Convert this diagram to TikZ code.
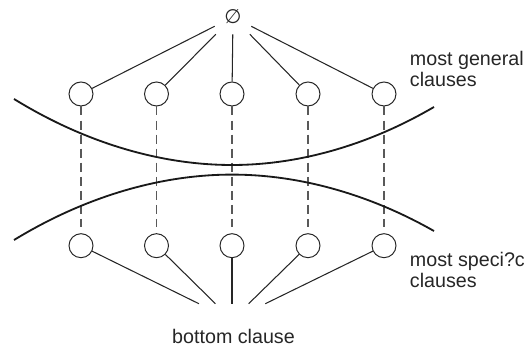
\documentclass[tikz,border=0pt]{standalone}
\usepackage{fontspec}
\setmainfont{Liberation Sans}
\newfontfamily\symbolfont{DejaVu Sans}
\usepackage{tikz}
\usepackage{xcolor}

\begin{document}
\begin{tikzpicture}[x=0.25cm,y=0.25cm,
        every node/.style={font=\fontsize{14}{15.6}\selectfont,text=black!85},
        clause/.style={circle,draw=black!85,line width=0.7pt,minimum size=0.6cm,inner sep=0pt},
        hub/.style={rectangle,inner sep=0pt},
        edge/.style={line width=0.75pt,black!85},
        link/.style={line width=0.75pt,black!65,dash pattern=on 6.4pt off 3.6pt,shorten >=0.15cm},
        border/.style={line width=1.3pt,black!90}]
        \useasboundingbox (0,0) rectangle (52.4,35);

        % empty clause
        \node[hub,minimum width=0.9cm,minimum height=0.85cm] (empty) at (23.3,33.3) {\symbolfont ∅};

        % most general clauses
        \node[clause] (g1) at (8.1,25.6) {};
        \node[clause] (g2) at (15.65,25.6) {};
        \node[clause] (g3) at (23.2,25.6) {};
        \node[clause] (g4) at (30.8,25.6) {};
        \node[clause] (g5) at (38.4,25.6) {};
        \node[anchor=base west,align=left] (general) at (40.5,26.3) {most general\\clauses};

        % most specific clauses
        \node[clause] (s1) at (8.1,10.43) {};
        \node[clause] (s2) at (15.65,10.43) {};
        \node[clause] (s3) at (23.2,10.43) {};
        \node[clause] (s4) at (30.8,10.43) {};
        \node[clause] (s5) at (38.4,10.43) {};
        \node[anchor=base west,align=left] (specific) at (40.5,6.2) {most speci?c\\clauses};

        % bottom clause
        \node[hub,minimum width=2.2cm,minimum height=0.8cm] (bottom) at (23.2,3.0) {};
        \node[anchor=base] (bottomtext) at (23.35,0.6) {bottom clause};

        % edges
        \draw[edge] (empty) -- (g1);
        \draw[edge] (empty) -- (g2);
        \draw[edge] (empty) -- (g3);
        \draw[edge] (empty) -- (g4);
        \draw[edge] (empty) -- (g5);
        \draw[edge] (s1) -- (bottom);
        \draw[edge] (s2) -- (bottom);
        \draw[edge] (s3) -- (bottom);
        \draw[edge] (s4) -- (bottom);
        \draw[edge] (s5) -- (bottom);

        % dashed links
        \draw[link] (g1) -- (s1);
        \draw[link] (g2) -- (s2);
        \draw[link] (g3) -- (s3);
        \draw[link] (g4) -- (s4);
        \draw[link] (g5) -- (s5);

        % boundaries
        \draw[border] (1.4,25.1) parabola bend (23.2,18.5) (43.4,24.3);
        \draw[border] (1.4,11.0) parabola bend (23.2,17.54) (43.4,11.9);
    \end{tikzpicture}
\end{document}
